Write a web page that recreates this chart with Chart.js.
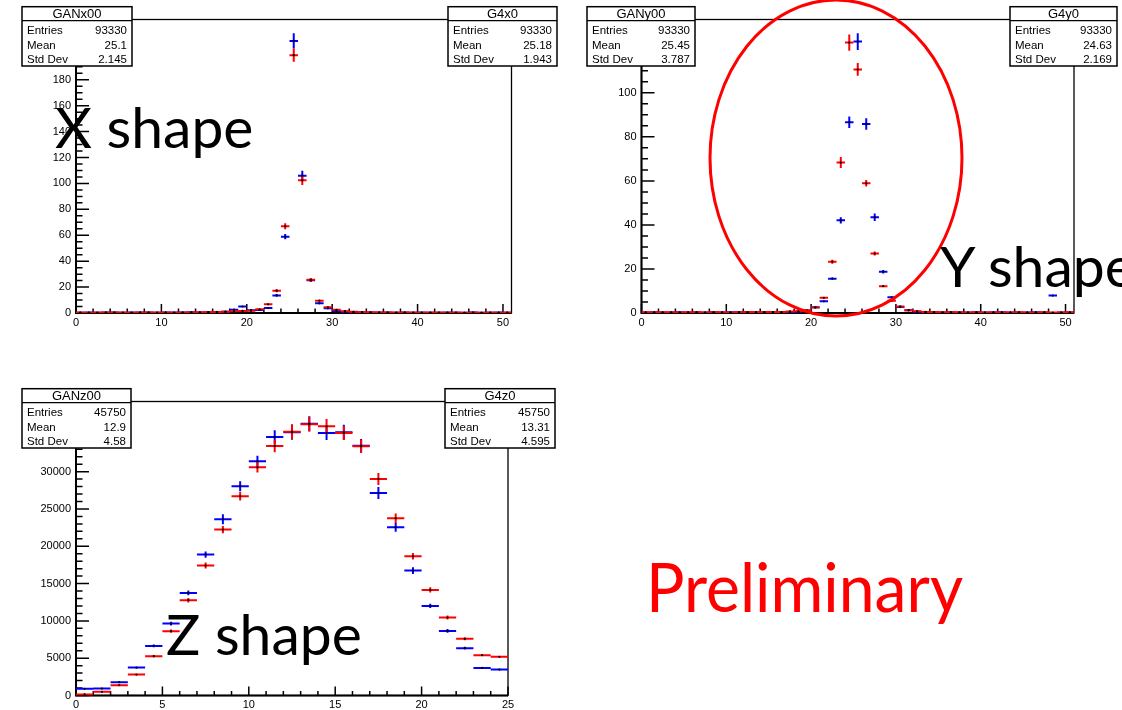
<!DOCTYPE html>
<html>
<head>
<meta charset="utf-8">
<script src="https://cdn.jsdelivr.net/npm/chart.js@4.4.1/dist/chart.umd.min.js"></script>
<style>
  html, body { margin: 0; padding: 0; background: #fff; }
  #page { position: relative; width: 1122px; height: 710px; overflow: hidden; background: #fff; }
  canvas { position: absolute; }
  #overlay { position: absolute; left: 0; top: 0; }
</style>
</head>
<body>
<div id="page">
  <canvas id="chartX" style="left:0;top:0" width="560" height="340"></canvas>
  <canvas id="chartY" style="left:560px;top:0" width="562" height="340"></canvas>
  <canvas id="chartZ" style="left:0;top:380px" width="560" height="330"></canvas>
  <svg id="overlay" width="1122" height="710" xmlns="http://www.w3.org/2000/svg"></svg>
</div>
<script>
// bin centres (bins of width 1)
const binsXY = [0.5, 1.5, 2.5, 3.5, 4.5, 5.5, 6.5, 7.5, 8.5, 9.5, 10.5, 11.5, 12.5, 13.5, 14.5, 15.5, 16.5,
  17.5, 18.5, 19.5, 20.5, 21.5, 22.5, 23.5, 24.5, 25.5, 26.5, 27.5, 28.5, 29.5, 30.5, 31.5, 32.5, 33.5,
  34.5, 35.5, 36.5, 37.5, 38.5, 39.5, 40.5, 41.5, 42.5, 43.5, 44.5, 45.5, 46.5, 47.5, 48.5, 49.5, 50.5];
const binsZ = [0.5, 1.5, 2.5, 3.5, 4.5, 5.5, 6.5, 7.5, 8.5, 9.5, 10.5, 11.5, 12.5, 13.5, 14.5, 15.5,
  16.5, 17.5, 18.5, 19.5, 20.5, 21.5, 22.5, 23.5, 24.5];

// tick labels
const xyBottomTicks = [0, 10, 20, 30, 40, 50];
const xLeftTicks = [0, 20, 40, 60, 80, 100, 120, 140, 160, 180, 200, 220];
const yLeftTicks = [0, 20, 40, 60, 80, 100, 120];
const zBottomTicks = [0, 5, 10, 15, 20, 25];
const zLeftTicks = [0, 5000, 10000, 15000, 20000, 25000, 30000, 35000];

// X shape: GAN (blue) and G4 (red)
const xGAN = [0.2, 0.3, 0.2, 0.4, 0.3, 0.2, 0.3, 0.4, 0.3, 0.2, 0.3, 0.4, 0.3, 0.5, 0.4, 0.6, 0.7,
  0.9, 2.6, 5.0, 2.2, 2.4, 3.8, 13.6, 58.9, 210, 106, 25.3, 7.5, 3.6, 1.5, 1.0, 0.6,
  0.5, 0.4, 0.3, 0.3, 0.2, 0.3, 0.2, 0.3, 0.2, 0.2, 0.3, 0.2, 0.2, 0.3, 0.2, 0.2, 0.3, 0.2];
const xGANerr = [0.1, 0.1, 0.1, 0.1, 0.1, 0.1, 0.1, 0.1, 0.1, 0.1, 0.1, 0.1, 0.1, 0.1, 0.1, 0.1, 0.1,
  0.3, 0.4, 0.6, 0.4, 0.4, 0.5, 1.0, 2.0, 5.8, 3.8, 1.3, 0.7, 0.5, 0.3, 0.3, 0.2,
  0.1, 0.1, 0.1, 0.1, 0.1, 0.1, 0.1, 0.1, 0.1, 0.1, 0.1, 0.1, 0.1, 0.1, 0.1, 0.1, 0.1, 0.1];
const xG4 = [0.3, 0.2, 0.3, 0.3, 0.4, 0.3, 0.2, 0.3, 0.4, 0.3, 0.3, 0.2, 0.4, 0.3, 0.5, 0.6, 0.8,
  1.0, 1.3, 1.6, 1.8, 2.8, 6.7, 17.2, 66.9, 199, 102.4, 25.6, 9.5, 4.4, 2.5, 1.4, 0.9,
  0.6, 0.5, 0.4, 0.4, 0.3, 0.3, 0.3, 0.2, 0.3, 0.3, 0.2, 0.3, 0.2, 0.3, 0.2, 0.3, 0.2, 0.3];
const xG4err = [0.1, 0.1, 0.1, 0.1, 0.1, 0.1, 0.1, 0.1, 0.1, 0.1, 0.1, 0.1, 0.1, 0.1, 0.1, 0.1, 0.1,
  0.3, 0.3, 0.4, 0.4, 0.5, 0.7, 1.2, 2.3, 5.2, 3.6, 1.4, 0.8, 0.5, 0.4, 0.3, 0.3,
  0.1, 0.1, 0.1, 0.1, 0.1, 0.1, 0.1, 0.1, 0.1, 0.1, 0.1, 0.1, 0.1, 0.1, 0.1, 0.1, 0.1, 0.1];

// Y shape
const yGAN = [0.2, 0.3, 0.2, 0.2, 0.3, 0.2, 0.3, 0.2, 0.3, 0.2, 0.3, 0.3, 0.2, 0.3, 0.3, 0.4,
  0.3, 0.5, 0.6, 1.0, 2.6, 5.3, 15.6, 42.1, 86.6, 123.3, 85.8, 43.5, 18.7, 7.1, 2.7, 1.2, 0.6, 0.4,
  0.3, 0.2, 0.3, 0.2, 0.2, 0.3, 0.2, 0.2, 0.3, 0.2, 0.2, 0.2, 0.3, 0.2, 7.9, 0.2, 0.2];
const yGANerr = [0.1, 0.1, 0.1, 0.1, 0.1, 0.1, 0.1, 0.1, 0.1, 0.1, 0.1, 0.1, 0.1, 0.1, 0.1, 0.1,
  0.1, 0.2, 0.2, 0.3, 0.3, 0.4, 0.5, 1.4, 2.6, 3.8, 2.6, 1.7, 0.8, 0.4, 0.3, 0.2, 0.1, 0.1,
  0.1, 0.1, 0.1, 0.1, 0.1, 0.1, 0.1, 0.1, 0.1, 0.1, 0.1, 0.1, 0.1, 0.1, 0.4, 0.1, 0.1];
const yG4 = [0.3, 0.2, 0.3, 0.3, 0.2, 0.3, 0.3, 0.2, 0.3, 0.3, 0.2, 0.3, 0.4, 0.3, 0.4, 0.4,
  0.4, 0.7, 0.8, 1.2, 2.5, 6.9, 23.3, 68.3, 122.8, 110.6, 58.9, 27.0, 12.2, 5.6, 3.0, 1.3, 0.8, 0.5,
  0.4, 0.3, 0.3, 0.3, 0.2, 0.3, 0.2, 0.3, 0.2, 0.2, 0.3, 0.2, 0.2, 0.3, 0.2, 0.2, 0.3];
const yG4err = [0.1, 0.1, 0.1, 0.1, 0.1, 0.1, 0.1, 0.1, 0.1, 0.1, 0.1, 0.1, 0.1, 0.1, 0.1, 0.1,
  0.1, 0.2, 0.2, 0.3, 0.3, 0.4, 0.9, 2.5, 3.7, 2.9, 1.5, 0.9, 0.5, 0.4, 0.3, 0.2, 0.1, 0.1,
  0.1, 0.1, 0.1, 0.1, 0.1, 0.1, 0.1, 0.1, 0.1, 0.1, 0.1, 0.1, 0.1, 0.1, 0.1, 0.1, 0.1];

// Z shape
const zGAN = [900, 940, 1790, 3750, 6650, 9640, 13750, 18880, 23620, 28040, 31380, 34640, 35270,
  36430, 35180, 35270, 33480, 27140, 22540, 16740, 12010, 8660, 6340, 3700, 3480];
const zGANerr = [100, 100, 130, 150, 180, 250, 330, 420, 670, 670, 740, 900, 1000,
  1000, 950, 1000, 900, 800, 600, 450, 300, 250, 180, 120, 120];
const zG4 = [150, 490, 1380, 2810, 5270, 8620, 12770, 17410, 22230, 26700, 30580, 33440, 35360,
  36340, 36070, 35180, 33390, 29020, 23750, 18660, 14150, 10450, 7590, 5400, 5180];
const zG4err = [60, 100, 120, 140, 170, 220, 300, 400, 500, 560, 700, 850, 1000,
  1000, 1000, 950, 900, 800, 650, 450, 350, 270, 200, 130, 130];

// stats boxes text
const boxTitles = ['GANx00', 'G4x0', 'GANy00', 'G4y0', 'GANz00', 'G4z0'];
const boxEntries = ['93330', '93330', '93330', '93330', '45750', '45750'];
const boxMeans = ['25.1', '25.18', '25.45', '24.63', '12.9', '13.31'];
const boxStdDevs = ['2.145', '1.943', '3.787', '2.169', '4.58', '4.595'];

// ROOT-like frame, inward ticks and error crosses
const rootFrame = {
  id: 'rootFrame',
  beforeDatasetsDraw(chart, args, o) {
    const { ctx, chartArea: a, scales: { x, y } } = chart;
    ctx.save();
    ctx.strokeStyle = '#000';
    ctx.lineWidth = 1.3;
    ctx.strokeRect(a.left, a.top, a.right - a.left, a.bottom - a.top);
    ctx.lineWidth = 2;
    ctx.beginPath();
    ctx.moveTo(a.left, a.top);
    ctx.lineTo(a.left, a.bottom);
    ctx.lineTo(a.right, a.bottom);
    ctx.stroke();

    ctx.lineWidth = 1.5;
    ctx.beginPath();
    for (let k = 0; k * o.xMinor <= x.max + 1e-9; k++) {
      const v = k * o.xMinor;
      const px = x.getPixelForValue(v);
      const len = v % o.xMajor === 0 ? o.xLen : o.xLen / 2;
      ctx.moveTo(px, a.bottom);
      ctx.lineTo(px, a.bottom - len);
    }
    for (let k = 0; k * o.yMinor <= y.max + 1e-9; k++) {
      const v = k * o.yMinor;
      const py = y.getPixelForValue(v);
      const len = v % o.yMajor === 0 ? o.yLen : o.yLen / 2;
      ctx.moveTo(a.left, py);
      ctx.lineTo(a.left + len, py);
    }
    ctx.stroke();

    ctx.beginPath();
    ctx.rect(a.left, a.top, a.right - a.left, a.bottom - a.top);
    ctx.clip();
    chart.data.datasets.forEach(ds => {
      ctx.strokeStyle = ds.crossColor;
      ctx.lineWidth = 2;
      ctx.beginPath();
      ds.data.forEach((p, i) => {
        const py = y.getPixelForValue(p.y);
        ctx.moveTo(x.getPixelForValue(p.x - 0.5), py);
        ctx.lineTo(x.getPixelForValue(p.x + 0.5), py);
        const e = ds.errors[i];
        const px = x.getPixelForValue(p.x);
        ctx.moveTo(px, y.getPixelForValue(p.y - e));
        ctx.lineTo(px, y.getPixelForValue(p.y + e));
      });
      ctx.stroke();
    });
    ctx.restore();
  }
};

const tickFont = { family: 'Liberation Sans', size: 11 };

function makeChart(id, bins, blue, blueErr, red, redErr, c) {
  return new Chart(document.getElementById(id), {
    type: 'scatter',
    data: {
      datasets: [
        { label: 'GAN', data: bins.map((b, i) => ({ x: b, y: blue[i] })), errors: blueErr, crossColor: '#0000ff' },
        { label: 'G4', data: bins.map((b, i) => ({ x: b, y: red[i] })), errors: redErr, crossColor: '#ff0000' }
      ]
    },
    options: {
      responsive: false,
      animation: false,
      devicePixelRatio: 1,
      layout: { padding: c.padding },
      elements: { point: { radius: 1.1, backgroundColor: '#000', borderWidth: 0 } },
      plugins: {
        legend: { display: false },
        tooltip: { enabled: false },
        rootFrame: c.ticks
      },
      scales: {
        x: {
          type: 'linear', min: 0, max: c.xMax,
          grid: { display: false, drawTicks: false }, border: { display: false },
          ticks: { padding: 3, maxRotation: 0, autoSkip: false,
                   font: tickFont, color: '#000', callback: v => String(v) },
          afterBuildTicks: s => { s.ticks = c.xTicks.map(v => ({ value: v })); },
          afterFit: s => { s.height = c.xAxisH; }
        },
        y: {
          type: 'linear', min: 0, max: c.yMax,
          grid: { display: false, drawTicks: false }, border: { display: false },
          ticks: { padding: 5, autoSkip: false,
                   font: tickFont, color: '#000', callback: v => String(v) },
          afterBuildTicks: s => { s.ticks = c.yTicks.map(v => ({ value: v })); },
          afterFit: s => { s.width = c.yAxisW; }
        }
      }
    },
    plugins: [rootFrame]
  });
}

makeChart('chartX', binsXY, xGAN, xGANerr, xG4, xG4err, {
  padding: { left: 0, top: 19.5, right: 48.5, bottom: 0 }, yAxisW: 76, xAxisH: 27,
  xMax: 51, xTicks: xyBottomTicks, yMax: 226.5, yTicks: xLeftTicks,
  ticks: { xMinor: 2, xMajor: 10, xLen: 9, yMinor: 5, yMajor: 20, yLen: 13 }
});
makeChart('chartY', binsXY, yGAN, yGANerr, yG4, yG4err, {
  padding: { left: 0, top: 19.5, right: 48, bottom: 0 }, yAxisW: 81.5, xAxisH: 27,
  xMax: 51, xTicks: xyBottomTicks, yMax: 133.3, yTicks: yLeftTicks,
  ticks: { xMinor: 2, xMajor: 10, xLen: 9, yMinor: 5, yMajor: 20, yLen: 13 }
});
makeChart('chartZ', binsZ, zGAN, zGANerr, zG4, zG4err, {
  padding: { left: 0, top: 21.5, right: 52, bottom: 0 }, yAxisW: 76, xAxisH: 14.5,
  xMax: 25, xTicks: zBottomTicks, yMax: 39400, yTicks: zLeftTicks,
  ticks: { xMinor: 1, xMajor: 5, xLen: 9, yMinor: 1000, yMajor: 5000, yLen: 13 }
});

// overlay: stats boxes, captions and the ellipse
const svg = document.getElementById('overlay');
function add(tag, attrs, text) {
  const el = document.createElementNS('http://www.w3.org/2000/svg', tag);
  for (const k in attrs) el.setAttribute(k, attrs[k]);
  if (text !== undefined) el.textContent = text;
  svg.appendChild(el);
  return el;
}

const boxPlaces = [[22, 6.7, 132], [448, 6.7, 557], [587, 6.7, 695], [1010, 6.7, 1117], [22, 388.7, 131], [445, 388.7, 555]];
boxPlaces.forEach(([x1, top, x2], i) => {
  add('rect', { x: x1, y: top, width: x2 - x1, height: 59.3, fill: '#fff', stroke: '#000', 'stroke-width': 1.5 });
  add('line', { x1: x1, y1: top + 14, x2: x2, y2: top + 14, stroke: '#000', 'stroke-width': 1.2 });
  add('text', { x: (x1 + x2) / 2, y: top + 11, 'text-anchor': 'middle', 'font-family': 'Liberation Sans', 'font-size': 13 }, boxTitles[i]);
  const rows = [['Entries', boxEntries[i]], ['Mean', boxMeans[i]], ['Std Dev', boxStdDevs[i]]];
  rows.forEach(([label, val], r) => {
    const by = top + 27.4 + r * 14.5;
    add('text', { x: x1 + 5, y: by, 'font-family': 'Liberation Sans', 'font-size': 11.5 }, label);
    add('text', { x: x2 - 5, y: by, 'text-anchor': 'end', 'font-family': 'Liberation Sans', 'font-size': 11.5 }, val);
  });
});

add('ellipse', { cx: 836, cy: 158, rx: 126, ry: 158, fill: 'none', stroke: '#ff0000', 'stroke-width': 3 });
add('text', { x: 55, y: 148, 'font-family': 'Lato', 'font-size': 57 }, 'X shape');
add('text', { x: 940, y: 287, 'font-family': 'Lato', 'font-size': 57 }, 'Y shape');
add('text', { x: 166, y: 655, 'font-family': 'Lato', 'font-size': 57 }, 'Z shape');
add('text', { x: 646, y: 612, 'font-family': 'Lato', 'font-size': 67, fill: '#ff0000',
  textLength: 317, lengthAdjust: 'spacingAndGlyphs' }, 'Preliminary');
</script>
</body>
</html>
